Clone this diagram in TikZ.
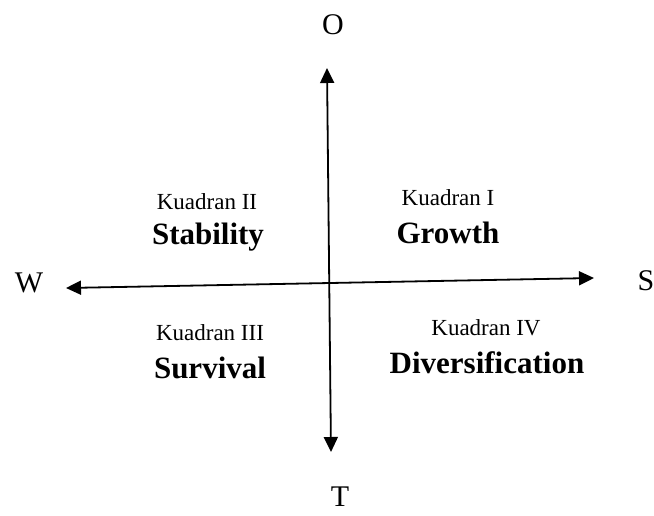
\documentclass[tikz,border=0pt]{standalone}
\usepackage{fontspec}
\setmainfont{Liberation Serif}
\usetikzlibrary{arrows.meta}
\tikzset{
  axis/.style  = {{Triangle[length=15pt,width=14pt]}-{Triangle[length=15pt,width=14pt]}, line width=1.8pt},
  pole/.style  = {font=\fontsize{30}{34}\selectfont, inner sep=0pt},
  quad/.style  = {font=\fontsize{23}{27}\selectfont, inner sep=0pt},
  strat/.style = {font=\fontsize{31}{36}\selectfont\bfseries, inner sep=0pt},
}

\begin{document}
\begin{tikzpicture}[x=1pt, y=-1pt]
  \useasboundingbox (0,0) rectangle (654,515);

  %% ---- the two axes and their poles ----------------------------------------
  \coordinate (otip) at (327,68);
  \coordinate (ttip) at (331,452);
  \coordinate (wtip) at (66,288);
  \coordinate (stip) at (594,278);
  \draw[axis] (otip) -- (ttip);
  \draw[axis] (wtip) -- (stip);

  \node[pole] (o) at (333,25)  {O};
  \node[pole] (t) at (340,497) {T};
  \node[pole] (w) at (29,283)  {W};
  \node[pole] (s) at (646,281) {S};

  %% ---- the four quadrants --------------------------------------------------
  \node[quad]  (k2) at (207,202) {Kuadran II};
  \node[strat] (stability) at (208,237) {Stability};
  \node[quad]  (k1) at (448,198) {Kuadran I};
  \node[strat] (growth) at (448,233) {Growth};
  \node[quad]  (k3) at (210,333) {Kuadran III};
  \node[strat] (survival) at (210,368) {Survival};
  \node[quad]  (k4) at (486,328) {Kuadran IV};
  \node[strat] (diversification) at (487,363) {Diversification};
\end{tikzpicture}
\end{document}
